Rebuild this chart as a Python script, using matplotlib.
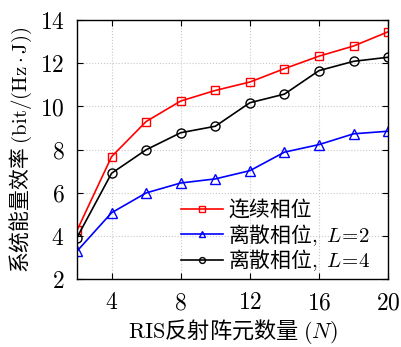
import numpy as np
import matplotlib
matplotlib.use("Agg")
import matplotlib.pyplot as plt

plt.rcParams["font.family"] = ["Noto Sans CJK SC", "DejaVu Sans"]
plt.rcParams["mathtext.fontset"] = "cm"

N = [2, 4, 6, 8, 10, 12, 14, 16, 18, 20]
continuous = [4.25, 7.67, 9.30, 10.25, 10.74, 11.13, 11.75, 12.33, 12.80, 13.46]
discrete_L2 = [3.29, 5.07, 5.99, 6.45, 6.64, 7.02, 7.88, 8.23, 8.73, 8.85]
discrete_L4 = [3.92, 6.90, 7.99, 8.78, 9.08, 10.17, 10.57, 11.66, 12.09, 12.28]
xticks = [4, 8, 12, 16, 20]
yticks = [2, 4, 6, 8, 10, 12, 14]

fig = plt.figure(figsize=(4.01, 3.47), dpi=100)
ax = fig.add_axes([0.192, 0.196, 0.776, 0.746])

ax.plot(N, continuous, color="red", marker="s", mfc="none", ms=6, lw=1.2,
        label="连续相位")
ax.plot(N, discrete_L2, color="blue", marker="^", mfc="none", ms=7, lw=1.2,
        label="离散相位$,\\ L\\!=\\!2$")
ax.plot(N, discrete_L4, color="black", marker="o", mfc="none", ms=6.5, lw=1.2,
        label="离散相位$,\\ L\\!=\\!4$")

ax.set_xlim(2, 20)
ax.set_ylim(2, 14)
ax.set_xticks(xticks)
ax.set_xticklabels(["$%d$" % t for t in xticks])
ax.set_yticks(yticks)
ax.set_yticklabels(["$%d$" % t for t in yticks])
ax.grid(True, linestyle=":", color="#c8c8c8", lw=0.8)
ax.tick_params(direction="in", top=True, right=True, labelsize=17, length=4, pad=9)
for s in ax.spines.values():
    s.set_linewidth(1.0)

ax.set_xlabel("$\\mathrm{RIS}$反射阵元数量 $(N)$", fontsize=16, labelpad=2)
ax.set_ylabel("系统能量效率 $(\\mathrm{bit}/(\\mathrm{Hz}\\cdot\\mathrm{J}))$",
              fontsize=15, labelpad=4)

leg = ax.legend(loc="lower right", bbox_to_anchor=(0.99, -0.035), frameon=False,
                fontsize=15, handlelength=2.0, handletextpad=0.25,
                labelspacing=0.0, borderpad=0.2, markerscale=0.65)

fig.savefig("out.png", dpi=100)
